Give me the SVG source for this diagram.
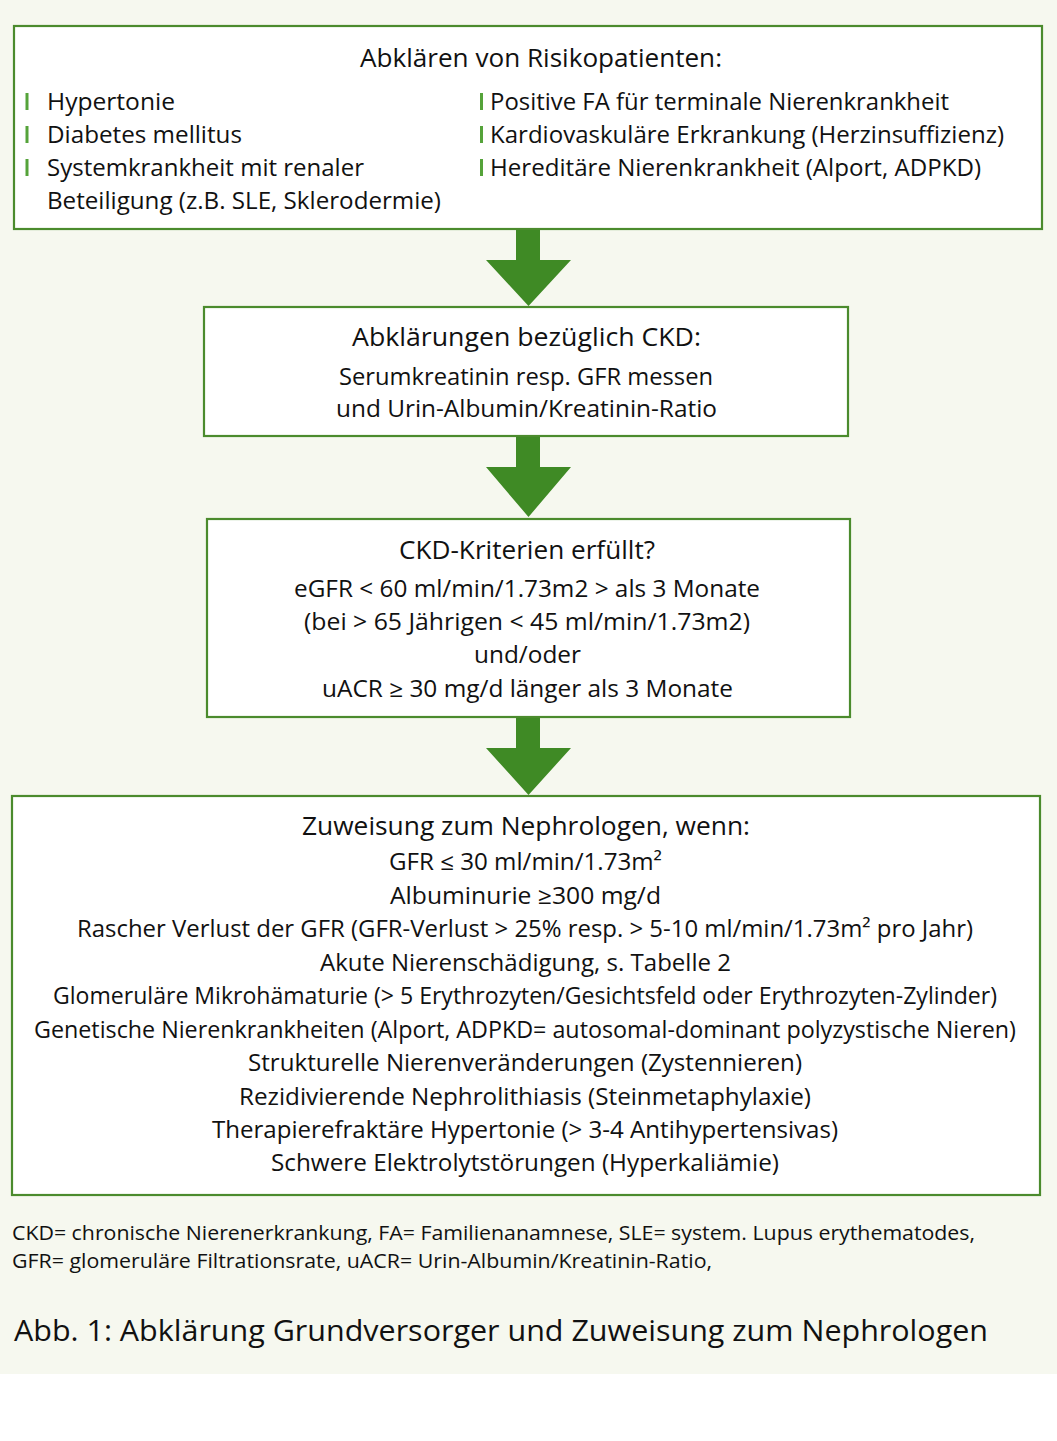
<svg xmlns="http://www.w3.org/2000/svg" width="1057" height="1441" viewBox="0 0 1057 1441">
<style>
.box{fill:#ffffff;stroke:#4b8b2d;stroke-width:2.2}
.arr{fill:#3f8a25}
.bar{fill:#55a33a}
text{font-family:"Open Sans","Noto Sans","Liberation Sans",sans-serif;fill:#111;}
.t{font-size:25px}
.b{font-size:23px}
.f{font-size:20px}
.c{font-size:29px}
</style>
<rect x="0" y="0" width="1057" height="1374" fill="#f6f8ef"/>
<rect x="0" y="1374" width="1057" height="67" fill="#ffffff"/>
<g id="connectors">
<path class="arr" d="M516,230 H540 V260 H571 L528.5,306 L486,260 H516 Z"/>
<path class="arr" d="M516,437 H540 V467 H571 L528.5,517 L486,467 H516 Z"/>
<path class="arr" d="M516,718 H540 V748 H571 L528.5,795 L486,748 H516 Z"/>
</g>
<g id="node1">
<rect class="box" x="14" y="26" width="1028" height="203"/>
<text class="t" x="360" y="67" textLength="362" lengthAdjust="spacingAndGlyphs">Abklären von Risikopatienten:</text>
<rect class="bar" x="25.5" y="93" width="3" height="17"/>
<rect class="bar" x="25.5" y="126" width="3" height="17"/>
<rect class="bar" x="25.5" y="159" width="3" height="17"/>
<rect class="bar" x="480" y="93" width="3" height="17"/>
<rect class="bar" x="480" y="126" width="3" height="17"/>
<rect class="bar" x="480" y="159" width="3" height="17"/>
<text class="b" x="47" y="110" textLength="128" lengthAdjust="spacingAndGlyphs">Hypertonie</text>
<text class="b" x="47" y="143" textLength="195" lengthAdjust="spacingAndGlyphs">Diabetes mellitus</text>
<text class="b" x="47" y="176" textLength="317" lengthAdjust="spacingAndGlyphs">Systemkrankheit mit renaler</text>
<text class="b" x="47" y="209" textLength="394" lengthAdjust="spacingAndGlyphs">Beteiligung (z.B. SLE, Sklerodermie)</text>
<text class="b" x="490" y="110" textLength="459" lengthAdjust="spacingAndGlyphs">Positive FA für terminale Nierenkrankheit</text>
<text class="b" x="490" y="143" textLength="514" lengthAdjust="spacingAndGlyphs">Kardiovaskuläre Erkrankung (Herzinsuffizienz)</text>
<text class="b" x="490" y="176" textLength="491" lengthAdjust="spacingAndGlyphs">Hereditäre Nierenkrankheit (Alport, ADPKD)</text>
</g>
<g id="node2">
<rect class="box" x="204" y="307" width="644" height="129"/>
<text class="t" x="352" y="346" textLength="349" lengthAdjust="spacingAndGlyphs">Abklärungen bezüglich CKD:</text>
<text class="b" x="339" y="385" textLength="374" lengthAdjust="spacingAndGlyphs">Serumkreatinin resp. GFR messen</text>
<text class="b" x="336" y="417" textLength="381" lengthAdjust="spacingAndGlyphs">und Urin-Albumin/Kreatinin-Ratio</text>
</g>
<g id="node3">
<rect class="box" x="207" y="519" width="643" height="198"/>
<text class="t" x="399" y="559" textLength="256" lengthAdjust="spacingAndGlyphs">CKD-Kriterien erfüllt?</text>
<text class="b" x="294" y="597" textLength="466" lengthAdjust="spacingAndGlyphs">eGFR &lt; 60 ml/min/1.73m2 &gt; als 3 Monate</text>
<text class="b" x="304" y="630" textLength="446" lengthAdjust="spacingAndGlyphs">(bei &gt; 65 Jährigen &lt; 45 ml/min/1.73m2)</text>
<text class="b" x="474" y="663" textLength="107" lengthAdjust="spacingAndGlyphs">und/oder</text>
<text class="b" x="322" y="697" textLength="411" lengthAdjust="spacingAndGlyphs">uACR ≥ 30 mg/d länger als 3 Monate</text>
</g>
<g id="node4">
<rect class="box" x="12" y="796" width="1028" height="399"/>
<text class="t" x="302" y="835" textLength="448" lengthAdjust="spacingAndGlyphs">Zuweisung zum Nephrologen, wenn:</text>
<text class="b" x="389" y="870" textLength="273" lengthAdjust="spacingAndGlyphs">GFR ≤ 30 ml/min/1.73m²</text>
<text class="b" x="390" y="904" textLength="271" lengthAdjust="spacingAndGlyphs">Albuminurie ≥300 mg/d</text>
<text class="b" x="77" y="937" textLength="896" lengthAdjust="spacingAndGlyphs">Rascher Verlust der GFR (GFR-Verlust &gt; 25% resp. &gt; 5-10 ml/min/1.73m² pro Jahr)</text>
<text class="b" x="320" y="971" textLength="411" lengthAdjust="spacingAndGlyphs">Akute Nierenschädigung, s. Tabelle 2</text>
<text class="b" x="53" y="1004" textLength="944" lengthAdjust="spacingAndGlyphs">Glomeruläre Mikrohämaturie (&gt; 5 Erythrozyten/Gesichtsfeld oder Erythrozyten-Zylinder)</text>
<text class="b" x="34" y="1038" textLength="982" lengthAdjust="spacingAndGlyphs">Genetische Nierenkrankheiten (Alport, ADPKD= autosomal-dominant polyzystische Nieren)</text>
<text class="b" x="248" y="1071" textLength="554" lengthAdjust="spacingAndGlyphs">Strukturelle Nierenveränderungen (Zystennieren)</text>
<text class="b" x="239" y="1105" textLength="572" lengthAdjust="spacingAndGlyphs">Rezidivierende Nephrolithiasis (Steinmetaphylaxie)</text>
<text class="b" x="212" y="1138" textLength="626" lengthAdjust="spacingAndGlyphs">Therapierefraktäre Hypertonie (&gt; 3-4 Antihypertensivas)</text>
<text class="b" x="271" y="1171" textLength="508" lengthAdjust="spacingAndGlyphs">Schwere Elektrolytstörungen (Hyperkaliämie)</text>
</g>
<text class="f" x="12" y="1240" textLength="963" lengthAdjust="spacingAndGlyphs">CKD= chronische Nierenerkrankung, FA= Familienanamnese, SLE= system. Lupus erythematodes,</text>
<text class="f" x="12" y="1268" textLength="700" lengthAdjust="spacingAndGlyphs">GFR= glomeruläre Filtrationsrate, uACR= Urin-Albumin/Kreatinin-Ratio,</text>
<text class="c" x="14" y="1341" textLength="974" lengthAdjust="spacingAndGlyphs">Abb. 1: Abklärung Grundversorger und Zuweisung zum Nephrologen</text>
</svg>
